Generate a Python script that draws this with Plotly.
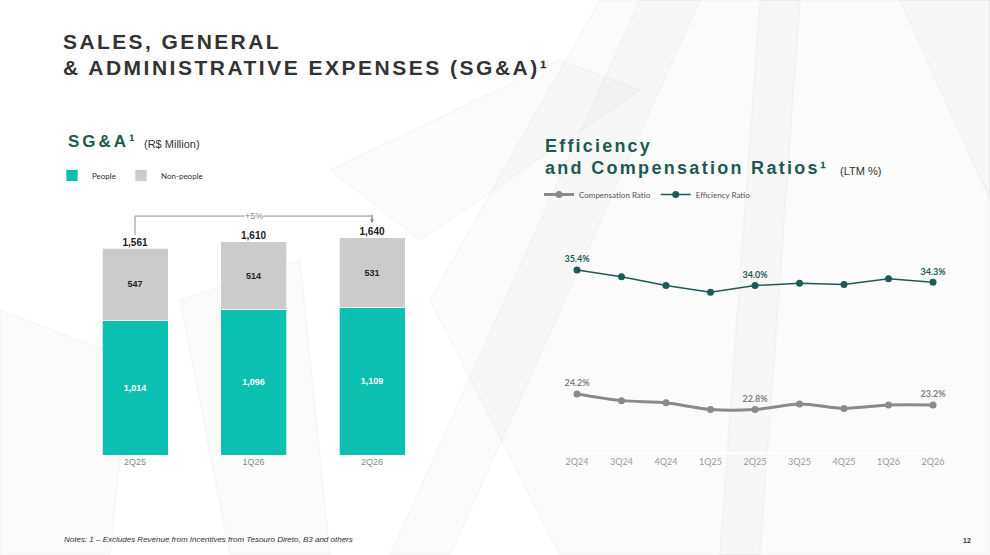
import plotly.graph_objects as go

# ---------------- data ----------------
bar_categories = ["2Q25", "1Q26", "2Q26"]
people = [1014, 1096, 1109]
non_people = [547, 514, 531]
totals = [1561, 1610, 1640]
growth_label = "+5%"

ratio_quarters = ["2Q24", "3Q24", "4Q24", "1Q25", "2Q25", "3Q25", "4Q25", "1Q26", "2Q26"]
efficiency_ratio = [35.4, 34.8, 34.0, 33.4, 34.0, 34.2, 34.1, 34.6, 34.3]
compensation_ratio = [24.2, 23.6, 23.4, 22.8, 22.8, 23.3, 22.9, 23.2, 23.2]
labelled_points = [0, 4, 8]

W, H = 990, 555
def px(x):
    return x / W
def py(y):
    return 1 - y / H

TEAL = "#0bbfb1"
GREY_BAR = "#cbcbcb"
DARK_TEAL = "#1e5a53"
LINE_GREY = "#8a8a8a"

fig = go.Figure()

# ---------------- bar chart ----------------
fig.add_trace(go.Bar(
    x=bar_categories, y=people, name="People",
    marker=dict(color=TEAL, line=dict(color="rgba(255,255,255,0.7)", width=1)),
    text=[f"<b>{v:,}</b>" for v in people], textposition="inside", insidetextanchor="middle",
    textfont=dict(family="Liberation Sans", size=9, color="white"),
    xaxis="x", yaxis="y", legend="legend", hoverinfo="skip",
))
fig.add_trace(go.Bar(
    x=bar_categories, y=non_people, name="Non-people",
    marker=dict(color=GREY_BAR, line=dict(color="rgba(255,255,255,0.7)", width=1)),
    text=[f"<b>{v:,}</b>" for v in non_people], textposition="inside", insidetextanchor="middle",
    textfont=dict(family="Liberation Sans", size=9, color="#222222"),
    xaxis="x", yaxis="y", legend="legend", hoverinfo="skip",
))
fig.add_trace(go.Scatter(
    x=bar_categories, y=totals, mode="text",
    text=[f"<b>{v:,}</b>" for v in totals], textposition="top center",
    textfont=dict(family="Liberation Sans", size=10, color="#222222"),
    showlegend=False, xaxis="x", yaxis="y", hoverinfo="skip", cliponaxis=False,
))

# ---------------- line chart ----------------
def sparse_labels(vals):
    return [f"<b>{v:.1f}%</b>" if i in labelled_points else "" for i, v in enumerate(vals)]

fig.add_trace(go.Scatter(
    x=ratio_quarters, y=compensation_ratio, name="Compensation Ratio",
    mode="lines+markers+text", line=dict(color=LINE_GREY, width=3, shape="spline", smoothing=0.8),
    marker=dict(color=LINE_GREY, size=7),
    text=sparse_labels(compensation_ratio), textposition="top center",
    textfont=dict(family="Lato", size=9, color="#7f7f7f"),
    xaxis="x2", yaxis="y2", legend="legend2", cliponaxis=False, hoverinfo="skip",
))
fig.add_trace(go.Scatter(
    x=ratio_quarters, y=efficiency_ratio, name="Efficiency Ratio",
    mode="lines+markers+text", line=dict(color=DARK_TEAL, width=1.5),
    marker=dict(color=DARK_TEAL, size=7),
    text=sparse_labels(efficiency_ratio), textposition="top center",
    textfont=dict(family="Lato", size=9, color=DARK_TEAL),
    xaxis="x2", yaxis="y2", legend="legend2", cliponaxis=False, hoverinfo="skip",
))

# ---------------- background decoration ----------------
shapes = []
bg_polys = [
    [(600, 0), (990, 0), (990, 555), (560, 555), (430, 300)],
    [(640, 0), (700, 0), (450, 555), (390, 555)],
    [(760, 0), (800, 0), (760, 555), (720, 555)],
    [(900, 0), (990, 0), (990, 200)],
    [(330, 170), (560, 60), (640, 90), (420, 240)],
    [(0, 310), (130, 360), (110, 555), (0, 555)],
    [(180, 300), (300, 260), (330, 555), (230, 555)],
]
for poly in bg_polys:
    path = "M " + " L ".join(f"{px(x)},{py(y)}" for x, y in poly) + " Z"
    shapes.append(dict(type="path", xref="paper", yref="paper", path=path,
                       fillcolor="rgba(0,0,0,0.016)", line=dict(color="rgba(0,0,0,0.022)", width=2),
                       layer="below"))

# growth bracket (data coords)
bracket_y = max(totals) + 162
shapes += [
    dict(type="line", xref="x", yref="y", x0=0, x1=0, y0=totals[0] + 98, y1=bracket_y,
         line=dict(color="#8c8c8c", width=1)),
    dict(type="line", xref="x", yref="y", x0=0, x1=2, y0=bracket_y, y1=bracket_y,
         line=dict(color="#8c8c8c", width=1)),
    dict(type="line", xref="x", yref="y", x0=2, x1=2, y0=bracket_y, y1=totals[2] + 118,
         line=dict(color="#8c8c8c", width=1)),
]

annotations = [
    dict(x=2, y=totals[2] + 108, xref="x", yref="y", ax=0, ay=-10, showarrow=True,
         arrowhead=2, arrowsize=0.8, arrowwidth=1, arrowcolor="#8c8c8c", text=""),
    dict(x=1, y=bracket_y, xref="x", yref="y", text=growth_label, showarrow=False,
         font=dict(family="Liberation Sans", size=9, color="#8c8c8c"),
         bgcolor="rgba(255,255,255,0.9)", borderpad=0),
    # main title
    dict(x=px(61), y=py(41.5), xref="paper", yref="paper", xanchor="left", yanchor="middle",
         text="<b>SALES, GENERAL</b>", showarrow=False,
         font=dict(family="Liberation Sans", size=21, color="#333333")),
    dict(x=px(61), y=py(68), xref="paper", yref="paper", xanchor="left", yanchor="middle",
         text="<b>&amp; ADMINISTRATIVE EXPENSES (SG&amp;A)¹</b>", showarrow=False,
         font=dict(family="Liberation Sans", size=21, color="#333333")),
    # bar chart title
    dict(x=px(66), y=py(141), xref="paper", yref="paper", xanchor="left", yanchor="middle",
         text="<b>SG&amp;A¹</b>", showarrow=False,
         font=dict(family="Liberation Sans", size=17, color=DARK_TEAL)),
    dict(x=px(142), y=py(144), xref="paper", yref="paper", xanchor="left", yanchor="middle",
         text="(R$ Million)", showarrow=False,
         font=dict(family="Liberation Sans", size=11, color="#333333")),
    # line chart title
    dict(x=px(543), y=py(146), xref="paper", yref="paper", xanchor="left", yanchor="middle",
         text="<b>Efficiency</b>", showarrow=False,
         font=dict(family="Liberation Sans", size=18, color=DARK_TEAL)),
    dict(x=px(543), y=py(168), xref="paper", yref="paper", xanchor="left", yanchor="middle",
         text="<b>and Compensation Ratios¹</b>", showarrow=False,
         font=dict(family="Liberation Sans", size=18, color=DARK_TEAL)),
    dict(x=px(838), y=py(171), xref="paper", yref="paper", xanchor="left", yanchor="middle",
         text="(LTM %)", showarrow=False,
         font=dict(family="Liberation Sans", size=11, color="#333333")),
    # notes & page number
    dict(x=px(62), y=py(539), xref="paper", yref="paper", xanchor="left", yanchor="middle",
         text="<i>Notes: 1 – Excludes Revenue from Incentives from Tesouro Direto, B3 and others</i>",
         showarrow=False, font=dict(family="Liberation Sans", size=8, color="#333333")),
    dict(x=px(973), y=py(540), xref="paper", yref="paper", xanchor="right", yanchor="middle",
         text="<b>12</b>", showarrow=False,
         font=dict(family="Liberation Sans", size=7, color="#333333")),
]

# ---------------- layout ----------------
fig.update_layout(
    width=W, height=H, margin=dict(l=0, r=0, t=0, b=0, autoexpand=False),
    paper_bgcolor="white", plot_bgcolor="rgba(0,0,0,0)",
    barmode="stack", bargap=0.443,
    shapes=shapes, annotations=annotations,
    xaxis=dict(domain=[px(75.75), px(431.25)], range=[-0.5, 2.5], showgrid=False,
               zeroline=False, showline=False, ticks="", fixedrange=True,
               tickfont=dict(family="Liberation Sans", size=9, color="#8a8a8a")),
    yaxis=dict(domain=[py(455), py(200)], range=[0, (455 - 200) / 0.1326], visible=False),
    xaxis2=dict(domain=[px(577), px(933)], range=[0, 8], anchor="y2", showgrid=False,
                zeroline=False, showline=True, linecolor="white", linewidth=2, ticks="",
                tickfont=dict(family="Lato", size=9, color="#9a9a9a"), type="category"),
    yaxis2=dict(domain=[py(452), py(240)], range=[18.96, 38.11], visible=False, anchor="x2"),
    legend=dict(orientation="h", x=px(52), y=py(161), xanchor="left", yanchor="top",
                font=dict(family="Lato", size=8, color="#333333"), bgcolor="rgba(0,0,0,0)",
                itemwidth=30, traceorder="normal"),
    legend2=dict(orientation="h", x=px(539), y=py(180), xanchor="left", yanchor="top",
                 font=dict(family="Lato", size=8, color="#555555"), bgcolor="rgba(0,0,0,0)",
                 itemwidth=30),
    showlegend=True,
)

post_js = """
document.body.style.margin = '0px';
var spacing = [['SALES, GENERAL', '2.4px'], ['& ADMINISTRATIVE', '2.5px'],
               ['SG&A', '3px'], ['Efficiency', '2.2px'], ['and Compensation', '2.3px']];
document.querySelectorAll('.annotation-text').forEach(function (t) {
  spacing.forEach(function (s) {
    if (t.textContent.indexOf(s[0]) === 0) {
      var x0 = t.getBBox().x;
      t.style.letterSpacing = s[1];
      var x1 = t.getBBox().x;
      t.setAttribute('transform', 'translate(' + (x0 - x1) + ',0)');
    }
  });
});
"""

fig.write_html("out.html", post_script=post_js, config={"displayModeBar": False})
